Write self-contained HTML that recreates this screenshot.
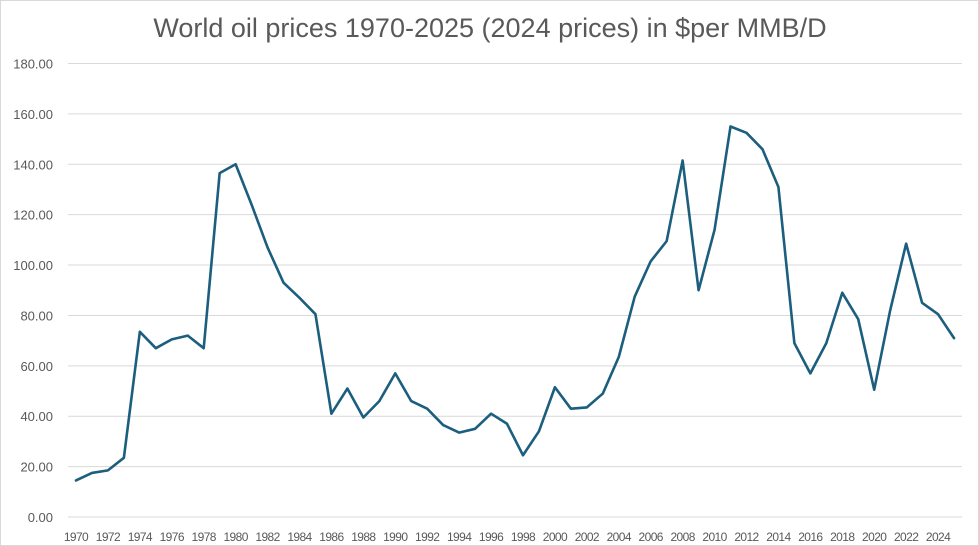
<!DOCTYPE html>
<html><head><meta charset="utf-8"><style>
body{margin:0;background:#fff}
svg{display:block;font-family:"Liberation Sans",sans-serif}
</style></head><body>
<svg id="chart" width="979" height="546">
<rect x="0.5" y="0.5" width="978" height="545" fill="#fff" stroke="#d9d9d9"/>
<text x="490" y="37" text-anchor="middle" font-size="27" fill="#595959">World oil prices 1970-2025 (2024 prices) in $per MMB/D</text>
<g id="grid"></g><g id="ylab"></g><g id="xlab"></g><g id="series"></g>
</svg>
<script>
const years=[];for(let y=1970;y<=2025;y++)years.push(y);
const prices=[14.5,17.5,18.5,23.5,73.5,67,70.5,72,67,136.5,140,124,107,93,87,80.5,41,51,39.5,46,57,46,43,36.5,33.5,35,41,37,24.5,34,51.5,43,43.5,49,63.5,87.5,101.5,109.5,141.5,90,114,155,152.5,146,131,69,57,69,89,78.5,50.5,82,108.5,85,80.5,71];
const yTicks=[0,20,40,60,80,100,120,140,160,180];
const NS="http://www.w3.org/2000/svg";
const x0=68,x1=962,yb=517,yt=63.5,ymax=180;
const bw=(x1-x0)/years.length;
const X=i=>x0+(i+0.5)*bw;
const Y=v=>yb-(v/ymax)*(yb-yt);
function mk(t,a,p){const e=document.createElementNS(NS,t);for(const k in a)e.setAttribute(k,a[k]);p.appendChild(e);return e;}
const grid=document.getElementById('grid'),yl=document.getElementById('ylab'),xl=document.getElementById('xlab'),ser=document.getElementById('series');
yTicks.forEach(v=>{
 const l=mk('line',{x1:x0,x2:x1,y1:Y(v),y2:Y(v),stroke:'#d9d9d9','stroke-width':1},grid);
 
 
 const t=mk('text',{x:53,y:Y(v)+5,'text-anchor':'end','font-size':13,fill:'#595959'},yl);
 t.textContent=v.toFixed(2);
 
 
});
years.forEach((yr,i)=>{
 if(yr%2)return;
 const t=mk('text',{x:X(i),y:541,'text-anchor':'middle','font-size':12,fill:'#595959','letter-spacing':'-0.6'},xl);
 t.textContent=yr;
 
 
});
const p=mk('polyline',{points:prices.map((v,i)=>X(i)+','+Y(v)).join(' '),fill:'none',stroke:'#1b5e7e','stroke-width':2.6,'stroke-linejoin':'round','stroke-linecap':'round'},ser);


</script>
</body></html>
